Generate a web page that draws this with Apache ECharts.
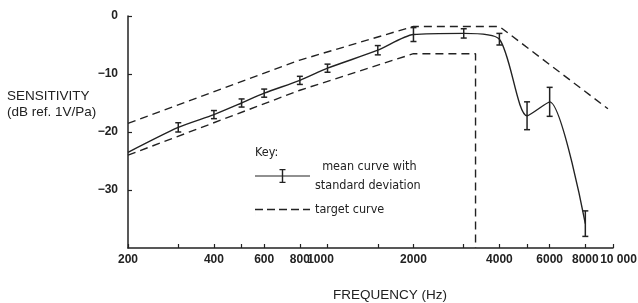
<!DOCTYPE html>
<html>
<head>
<meta charset="utf-8">
<script src="https://cdn.jsdelivr.net/npm/echarts@6/dist/echarts.min.js"></script>
<style>
  html, body { margin: 0; background: #fff; }
  #chart { width: 638px; height: 303px; }
</style>
</head>
<body>
<div id="chart"></div>
<script>
// mean curve (dB) with standard deviation at each measured frequency
var freqs = [200, 300, 400, 500, 600, 800, 1000, 1500, 2000, 3000, 4000, 5000, 6000, 8000];
var means = [-23.5, -19.2, -17.0, -15.0, -13.3, -11.1, -9.0, -5.9, -3.2, -3.0, -4.0, -17.2, -14.8, -35.8];
var sds = [null, 0.8, 0.7, 0.7, 0.7, 0.7, 0.7, 0.8, 1.2, 0.8, 1.0, 2.4, 2.5, 2.2];

// target curve: upper and lower limits
var upperFreqs = [200, 800, 2000, 4000, 9600];
var upperLevels = [-18.5, -7.6, -1.8, -1.8, -16];
var lowerFreqs = [200, 800, 2000, 3300, 3300];
var lowerLevels = [-24, -12.8, -6.5, -6.5, -40];

// axis ticks
var xTicks = [200, 300, 400, 500, 600, 800, 1000, 1500, 2000, 3000, 4000, 5000, 6000, 8000, 10000];
var xLabels = [200, 400, 600, 800, 1000, 2000, 4000, 6000, 8000, 10000];
var yTicks = [0, -10, -20, -30];

var ink = '#222';
var tickFont = "'Liberation Sans', Arial, sans-serif";
var keyFont = "'DejaVu Sans Condensed', sans-serif";
var nameFont = "13.5px 'Liberation Sans', sans-serif";

function pairs(xs, ys) {
  var out = [];
  for (var i = 0; i < xs.length; i++) out.push([xs[i], ys[i]]);
  return out;
}

var meanData = pairs(freqs, means);
var barData = [];
for (var i = 0; i < freqs.length; i++) {
  if (sds[i] != null) barData.push([freqs[i], means[i] - sds[i], means[i] + sds[i]]);
}

function renderBar(params, api) {
  var lo = api.coord([api.value(0), api.value(1)]);
  var hi = api.coord([api.value(0), api.value(2)]);
  var w = 3;
  var st = { stroke: ink, lineWidth: 1.5 };
  return {
    type: 'group',
    children: [
      { type: 'line', shape: { x1: lo[0], y1: lo[1], x2: hi[0], y2: hi[1] }, style: st },
      { type: 'line', shape: { x1: lo[0] - w, y1: lo[1], x2: lo[0] + w, y2: lo[1] }, style: st },
      { type: 'line', shape: { x1: hi[0] - w, y1: hi[1], x2: hi[0] + w, y2: hi[1] }, style: st }
    ]
  };
}

var chart = echarts.init(document.getElementById('chart'));

var option = {
  backgroundColor: '#fff',
  animation: false,
  grid: { left: 128, right: 25, top: 16, bottom: 55, outerBoundsMode: 'none', containLabel: false },
  legend: {
    left: 255,
    top: 157,
    orient: 'vertical',
    padding: 0,
    itemGap: 5,
    itemWidth: 55,
    itemHeight: 14,
    selectedMode: false,
    textStyle: { color: ink, fontSize: 12.5, lineHeight: 19, fontFamily: keyFont },
    formatter: function (name) {
      return name === 'mean curve' ? '  mean curve with\nstandard deviation' : name;
    },
    data: [
      { name: 'mean curve', icon: 'path://M0,6.4H55V7.6H0Z M26.8,0H28.2V14H26.8Z M24.5,0H30.5V1.3H24.5Z M24.5,12.7H30.5V14H24.5Z' },
      { name: 'target curve', icon: 'path://M0,0V14H0.01V0Z M0,6.3H8V7.7H0Z M12,6.3H20V7.7H12Z M24,6.3H32V7.7H24Z M36,6.3H44V7.7H36Z M48,6.3H55V7.7H48Z' }
    ]
  },
  graphic: [
    { type: 'text', left: 7, top: 89, style: { text: 'SENSITIVITY', fill: ink, font: nameFont } },
    { type: 'text', left: 7, top: 105, style: { text: '(dB ref. 1V/Pa)', fill: ink, font: nameFont } },
    { type: 'text', x: 390, y: 295, style: { text: 'FREQUENCY (Hz)', fill: ink, font: nameFont, align: 'center', verticalAlign: 'middle' } },
    { type: 'text', left: 255, top: 146, style: { text: 'Key:', fill: ink, font: '12.5px ' + keyFont } }
  ],
  xAxis: {
    type: 'log',
    logBase: 10,
    min: 200,
    max: 10001,
    splitLine: { show: false },
    axisLine: { onZero: false, lineStyle: { color: ink, width: 1.5 } },
    axisTick: { inside: true, length: 4, customValues: xTicks, lineStyle: { color: ink, width: 1.2 } },
    minorTick: { show: false },
    axisLabel: {
      customValues: xLabels,
      showMinLabel: true,
      showMaxLabel: true,
      hideOverlap: false,
      margin: 6,
      color: ink,
      fontSize: 12,
      fontWeight: 'bold',
      fontFamily: tickFont,
      formatter: function (v) {
        var n = Math.round(v);
        if (n === 10000) return '{r|10 000}';
        if (n === 1000) return '{l|1000}';
        return String(n);
      },
      rich: {
        l: { fontSize: 12, fontWeight: 'bold', fontFamily: tickFont, color: ink, padding: [0, 14, 0, 0] },
        r: { fontSize: 12, fontWeight: 'bold', fontFamily: tickFont, color: ink, padding: [0, 0, 0, 11] }
      }
    }
  },
  yAxis: {
    type: 'value',
    min: -40,
    max: 0,
    interval: 10,
    splitLine: { show: false },
    axisLine: { show: true, onZero: false, lineStyle: { color: ink, width: 1.5 } },
    axisTick: { show: true, inside: true, length: 4, customValues: yTicks, lineStyle: { color: ink, width: 1.2 } },
    axisLabel: {
      customValues: yTicks,
      showMinLabel: true,
      showMaxLabel: true,
      margin: 10,
      color: ink,
      fontSize: 12,
      fontWeight: 'bold',
      fontFamily: tickFont,
      formatter: function (v) { return String(v).replace('-', '\u2212'); }
    }
  },
  series: [
    {
      name: 'mean curve',
      type: 'line',
      data: meanData,
      smooth: 0.25,
      symbol: 'none',
      color: ink,
      lineStyle: { color: ink, width: 1.4 }
    },
    {
      name: 'mean curve',
      type: 'custom',
      data: barData,
      encode: { x: 0, y: [1, 2] },
      renderItem: renderBar,
      color: ink,
      z: 3
    },
    {
      name: 'target curve',
      type: 'line',
      data: pairs(upperFreqs, upperLevels),
      symbol: 'none',
      color: ink,
      lineStyle: { color: ink, width: 1.4, type: [8, 5] }
    },
    {
      name: 'target curve',
      type: 'line',
      data: pairs(lowerFreqs, lowerLevels),
      symbol: 'none',
      color: ink,
      lineStyle: { color: ink, width: 1.4, type: [8, 5] }
    }
  ]
};

chart.setOption(option);
</script>
</body>
</html>
